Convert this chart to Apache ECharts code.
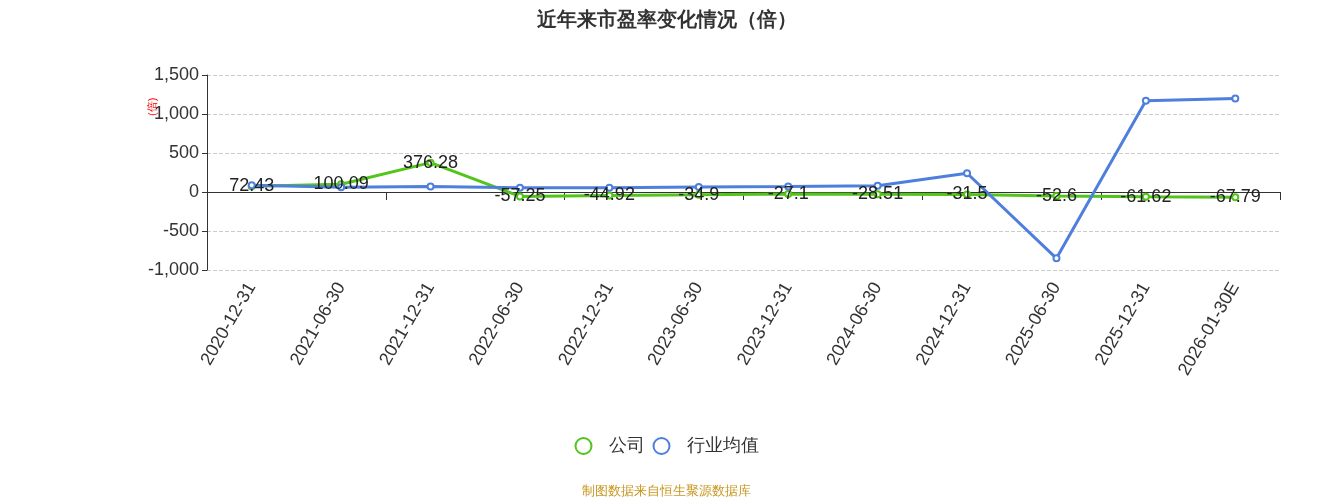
<!DOCTYPE html>
<html><head><meta charset="utf-8">
<script src="https://cdn.jsdelivr.net/npm/echarts@6/dist/echarts.min.js"></script>
</head><body style="margin:0">
<div id="main" style="width:1333px;height:500px"></div>
<script>
var categories = ['2020-12-31','2021-06-30','2021-12-31','2022-06-30','2022-12-31','2023-06-30','2023-12-31','2024-06-30','2024-12-31','2025-06-30','2025-12-31','2026-01-30E'];
var companyPE = [72.43, 100.09, 376.28, -57.25, -44.92, -34.9, -27.1, -28.51, -31.5, -52.6, -61.62, -67.79];
var industryPE = [85, 60, 70, 55, 55, 65, 70, 80, 240, -850, 1170, 1200];
var yTicks = { min: -1000, max: 1500, interval: 500 };

var chart = echarts.init(document.getElementById('main'));
chart.setOption({
    title: { text: '近年来市盈率变化情况（倍）', left: 'center', top: 5, textStyle: { fontSize: 20, fontWeight: 'bold', color: '#333' } },
    legend: { bottom: 40, itemWidth: 40, itemHeight: 16, textStyle: { fontSize: 18, color: '#333' },
        data: [{ name: '公司', icon: 'emptyCircle' }, { name: '行业均值', icon: 'emptyCircle' }] },
    graphic: [{ type: 'text', left: 'center', bottom: 2, style: { text: '制图数据来自恒生聚源数据库', fill: '#c8961e', fontSize: 13 } },
        { type: 'text', x: 147, y: 116, rotation: Math.PI / 2, style: { text: '(倍)', fill: 'red', fontSize: 11 } }],
    grid: { left: 207, right: 53, top: 75, bottom: 230 },
    xAxis: [{
        type: 'category', data: categories, boundaryGap: true,
        axisLine: { onZero: true, lineStyle: { color: '#333' } },
        axisTick: { show: true, length: 8, lineStyle: { color: '#333' } },
        axisLabel: { show: false }
    }, {
        type: 'category', data: categories, position: 'bottom', boundaryGap: true,
        axisLine: { show: false }, axisTick: { show: false },
        axisLabel: { rotate: 60, fontSize: 18, color: '#333', margin: 14, interval: 0 }
    }],
    yAxis: {
        type: 'value', min: yTicks.min, max: yTicks.max, interval: yTicks.interval,
        axisLine: { show: true, lineStyle: { color: '#333' } }, axisTick: { show: true },
        axisLabel: { fontSize: 18, color: '#333' },
        splitLine: { lineStyle: { type: 'dashed', color: '#ccc' } }
    },
    series: [{
        name: '公司', type: 'line', data: companyPE, color: '#52c41a',
        symbol: 'emptyCircle', symbolSize: 6, lineStyle: { width: 3 },
        label: { show: true, position: 'inside', fontSize: 18, color: '#222' }
    }, {
        name: '行业均值', type: 'line', data: industryPE, color: '#4e7fdd',
        symbol: 'emptyCircle', symbolSize: 6, lineStyle: { width: 3 }
    }]
});
</script>
</body></html>
